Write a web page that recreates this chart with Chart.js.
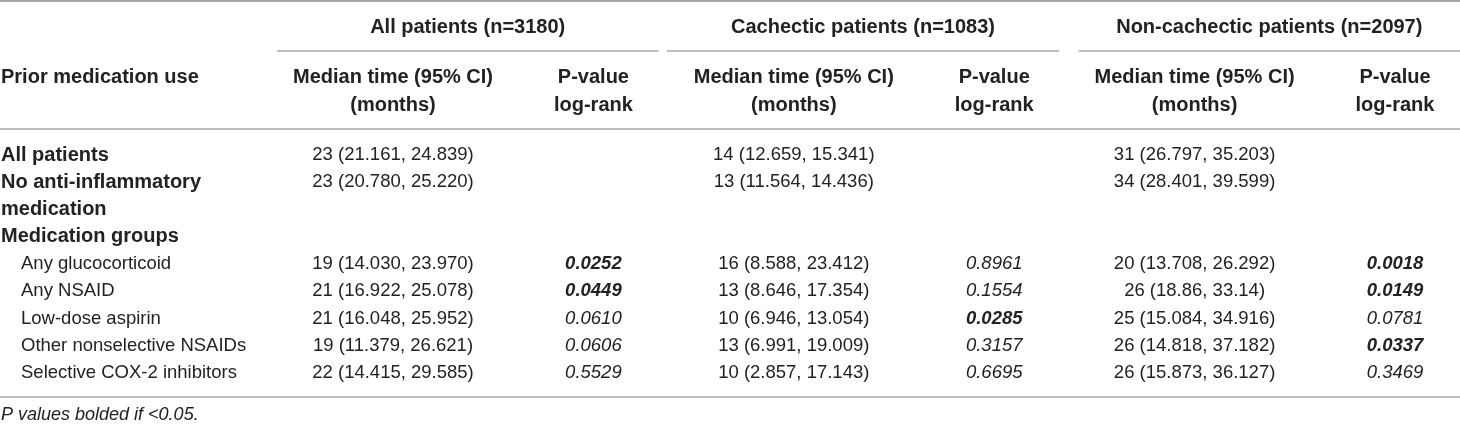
<!DOCTYPE html>
<html lang="en">

<head>
    <meta charset="UTF-8">
    <meta name="viewport" content="width=device-width, initial-scale=1.0">
    <script src="https://cdn.jsdelivr.net/npm/chart.js@4.4.0/dist/chart.umd.min.js"></script>
    <title>Median time by prior medication</title>
    <style>
        body { margin: 0; background: #fff; }
        canvas { display: block; }
    </style>
</head>

<body>
    <canvas id="tabela" width="1460" height="425"></canvas>
</body>

</html>
<script>
    // linhas da tabela (a 3a linha é a continuação de "No anti-inflammatory")
    var rowLabels = ['All patients', 'No anti-inflammatory', 'medication', 'Medication groups',
        'Any glucocorticoid', 'Any NSAID', 'Low-dose aspirin', 'Other nonselective NSAIDs', 'Selective COX-2 inhibitors'];
    var boldRows = [true, true, true, true, false, false, false, false, false];

    var groups = ['All patients (n=3180)', 'Cachectic patients (n=1083)', 'Non-cachectic patients (n=2097)'];
    var colKeys = ['m1', 'p1', 'm2', 'p2', 'm3', 'p3'];

    var medianAll = ['23 (21.161, 24.839)', '23 (20.780, 25.220)', null, null, '19 (14.030, 23.970)',
        '21 (16.922, 25.078)', '21 (16.048, 25.952)', '19 (11.379, 26.621)', '22 (14.415, 29.585)'];
    var pAll = [null, null, null, null, '0.0252', '0.0449', '0.0610', '0.0606', '0.5529'];

    var medianCach = ['14 (12.659, 15.341)', '13 (11.564, 14.436)', null, null, '16 (8.588, 23.412)',
        '13 (8.646, 17.354)', '10 (6.946, 13.054)', '13 (6.991, 19.009)', '10 (2.857, 17.143)'];
    var pCach = [null, null, null, null, '0.8961', '0.1554', '0.0285', '0.3157', '0.6695'];

    var medianNon = ['31 (26.797, 35.203)', '34 (28.401, 39.599)', null, null, '20 (13.708, 26.292)',
        '26 (18.86, 33.14)', '25 (15.084, 34.916)', '26 (14.818, 37.182)', '26 (15.873, 36.127)'];
    var pNon = [null, null, null, null, '0.0018', '0.0149', '0.0781', '0.0337', '0.3469'];

    var footnote = 'P values bolded if <0.05.';

    var FONT = '"Liberation Sans", Arial, sans-serif';
    var INK = '#222';
    var RULE = '#a6a6a6';
    var segLeft = [116, 127, 116]; // quanto o traço do grupo começa antes da coluna da mediana

    var columns = [medianAll, pAll, medianCach, pCach, medianNon, pNon];

    // um dataset por coluna, cada célula é um ponto (x = coluna, y = linha)
    var datasets = columns.map(function (col, c) {
        return {
            label: colKeys[c],
            cellText: col,
            isP: c % 2 == 1,
            data: rowLabels.map(function (lab) {
                return { x: colKeys[c], y: lab };
            }),
            pointRadius: 0,
            showLine: false
        };
    });

    function line(ctx, x1, y, x2, w) {
        ctx.beginPath();
        ctx.strokeStyle = RULE;
        ctx.lineWidth = w;
        ctx.moveTo(x1, y);
        ctx.lineTo(x2, y);
        ctx.stroke();
    }

    var tablePlugin = {
        id: 'tableText',
        afterDatasetsDraw: function (chart) {
            var ctx = chart.ctx;
            var xs = chart.scales.x, ys = chart.scales.y;
            var W = chart.width;
            var y0 = ys.getPixelForValue(0);
            var yLast = ys.getPixelForValue(rowLabels.length - 1);

            ctx.save();
            ctx.fillStyle = INK;
            ctx.textBaseline = 'middle';

            // linhas horizontais
            line(ctx, 0, 1, W, 2);
            line(ctx, 0, y0 - 26, W, 1.5);
            line(ctx, 0, yLast + 24, W, 1.5);

            // cabeçalho dos grupos
            groups.forEach(function (g, i) {
                var a = xs.getPixelForValue(i * 2) - segLeft[i];
                var b = Math.min(W, xs.getPixelForValue(i * 2 + 1) + 65);
                line(ctx, a, y0 - 104, b, 1.5);
                ctx.font = 'bold 20px ' + FONT;
                ctx.textAlign = 'center';
                ctx.fillText(g, (a + b) / 2, y0 - 128);

                ctx.fillText('Median time (95% CI)', xs.getPixelForValue(i * 2), y0 - 78);
                ctx.fillText('(months)', xs.getPixelForValue(i * 2), y0 - 50);
                ctx.fillText('P-value', xs.getPixelForValue(i * 2 + 1), y0 - 78);
                ctx.fillText('log-rank', xs.getPixelForValue(i * 2 + 1), y0 - 50);
            });
            ctx.textAlign = 'left';
            ctx.fillText('Prior medication use', 1, y0 - 78);

            // rótulos das linhas
            rowLabels.forEach(function (lab, r) {
                var yy = ys.getPixelForValue(r);
                if (boldRows[r]) {
                    ctx.font = 'bold 20px ' + FONT;
                    ctx.fillText(lab, 1, yy);
                } else {
                    ctx.font = '18.5px ' + FONT;
                    ctx.fillText(lab, 21, yy);
                }
            });

            // células
            ctx.textAlign = 'center';
            chart.data.datasets.forEach(function (ds, d) {
                var meta = chart.getDatasetMeta(d);
                meta.data.forEach(function (pt, r) {
                    var txt = ds.cellText[r];
                    if (!txt) return;
                    if (ds.isP) {
                        ctx.font = (Number(txt) < 0.05 ? 'italic bold ' : 'italic ') + '18.5px ' + FONT;
                    } else {
                        ctx.font = '18.5px ' + FONT;
                    }
                    ctx.fillText(txt, pt.x, pt.y);
                });
            });

            // nota de rodapé
            ctx.textAlign = 'left';
            ctx.font = 'italic 18px ' + FONT;
            ctx.fillText(footnote, 1, yLast + 42);
            ctx.restore();
        }
    };

    var ctx = document.getElementById('tabela').getContext('2d');

    new Chart(ctx, {
        type: 'scatter',
        data: { datasets: datasets },
        options: {
            responsive: false,
            animation: false,
            events: [],
            layout: { padding: { left: 393, right: 65, top: 155, bottom: 52 } },
            plugins: { legend: { display: false }, tooltip: { enabled: false } },
            scales: {
                x: { type: 'category', labels: colKeys, offset: false, display: false },
                y: { type: 'category', labels: rowLabels, offset: false, display: false }
            }
        },
        plugins: [tablePlugin]
    });
</script>
